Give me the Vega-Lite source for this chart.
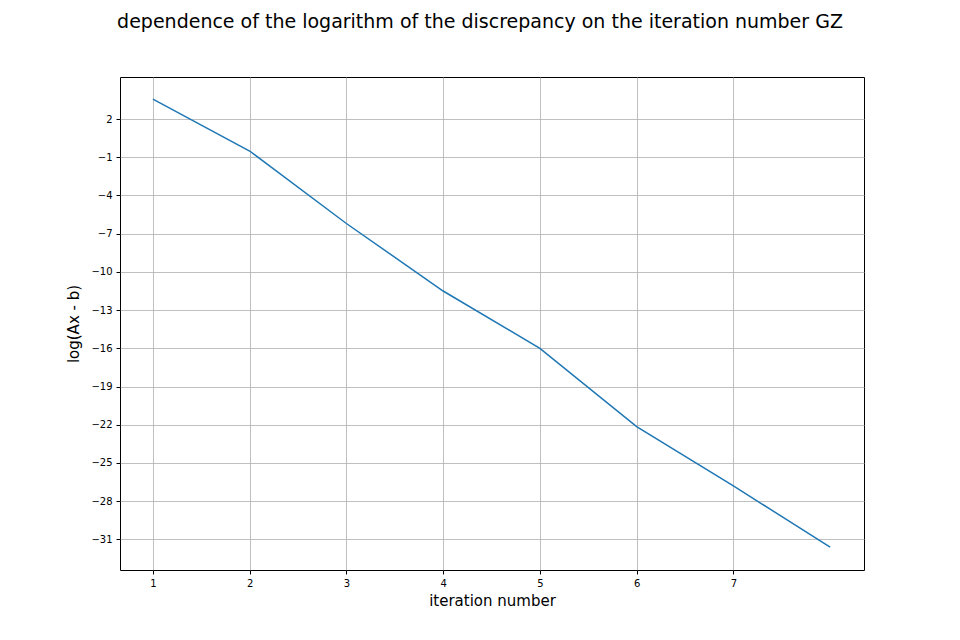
{
  "$schema": "https://vega.github.io/schema/vega-lite/v6.json",
  "width": 744,
  "height": 493,
  "autosize": {"type": "none"},
  "padding": {"left": 120, "top": 77, "right": 96, "bottom": 70},
  "background": "white",
  "title": {
    "text": "dependence of the logarithm of the discrepancy on the iteration number GZ",
    "fontSize": 19,
    "fontWeight": "normal",
    "font": "DejaVu Sans",
    "color": "black",
    "offset": 45,
    "dx": -12,
    "anchor": "middle"
  },
  "data": {
    "values": [
      {"iter": 1, "log": 3.57},
      {"iter": 2, "log": -0.51},
      {"iter": 3, "log": -6.2},
      {"iter": 4, "log": -11.5},
      {"iter": 5, "log": -16.0},
      {"iter": 6, "log": -22.15},
      {"iter": 7, "log": -26.8},
      {"iter": 8, "log": -31.6}
    ]
  },
  "mark": {"type": "line", "color": "#1f77b4", "strokeWidth": 1.5},
  "encoding": {
    "x": {
      "field": "iter",
      "type": "quantitative",
      "title": "iteration number",
      "scale": {"domain": [0.66, 8.35], "nice": false, "zero": false},
      "axis": {"values": [1, 2, 3, 4, 5, 6, 7], "format": "d"}
    },
    "y": {
      "field": "log",
      "type": "quantitative",
      "title": "log(Ax - b)",
      "scale": {"domain": [-33.4, 5.3], "nice": false, "zero": false},
      "axis": {"values": [2, -1, -4, -7, -10, -13, -16, -19, -22, -25, -28, -31], "format": "d"}
    }
  },
  "config": {
    "font": "DejaVu Sans",
    "view": {"stroke": "black", "strokeWidth": 1},
    "axis": {
      "grid": true,
      "gridColor": "#b0b0b0",
      "gridWidth": 0.8,
      "domain": false,
      "tickColor": "black",
      "tickSize": 4,
      "labelFontSize": 10,
      "labelColor": "black",
      "labelPadding": 4,
      "titleFontSize": 15,
      "titleFontWeight": "normal",
      "titleColor": "black"
    },
    "axisX": {"titlePadding": 5},
    "axisY": {"titlePadding": 9}
  }
}
